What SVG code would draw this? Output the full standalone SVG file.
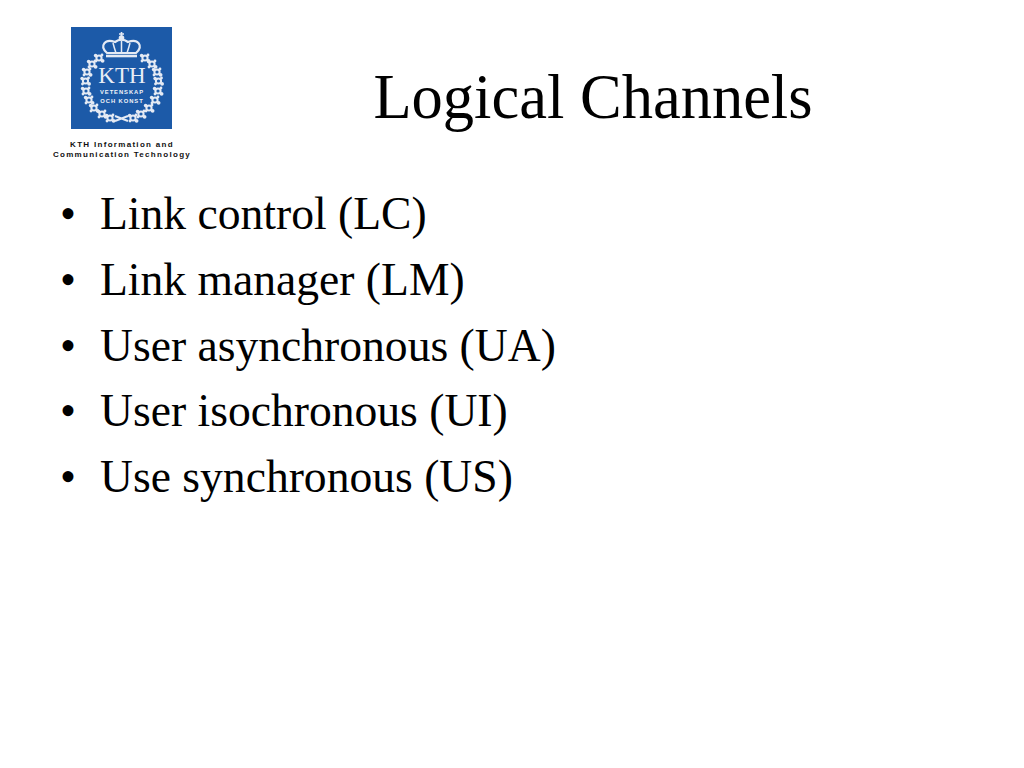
<svg xmlns="http://www.w3.org/2000/svg" width="1024" height="768" viewBox="0 0 1024 768">
<defs>
<style>
.t{font-family:"Liberation Serif","Times New Roman",serif;fill:#000}
.b{font-size:45.600px}
.w{font-family:"Liberation Sans",Arial,sans-serif;fill:#eef2f8;font-weight:700;text-anchor:middle}
.c{font-family:"Liberation Sans",Arial,sans-serif;fill:#111;font-weight:700;font-size:8px;text-anchor:middle;letter-spacing:1.300px}
.l{fill:none;stroke:#e4eaf4;stroke-width:2}
</style>
<g id="leaf"><circle r="2.600" fill="none" stroke="#e4eaf4" stroke-width="2"/><circle cx="3.600" cy="2.800" r="1.900" fill="#e4eaf4"/><circle cx="-3.400" cy="-2.400" r="1.800" fill="#e4eaf4"/><circle cx="3" cy="-3" r="1.400" fill="#e4eaf4"/><circle cx="-3" cy="3" r="1.400" fill="#e4eaf4"/></g>
</defs>
<rect width="1024" height="768" fill="#fff"/>
<g id="logo">
<rect x="71" y="27" width="101" height="102" fill="#1c5aa8"/>
<g id="crown" fill="none" stroke="#e4eaf4">
<path d="M107 53c-8-7-2-15 8-11 4-3 9-3 13 0 10-4 16 4 8 11z" stroke-width="2.200"/>
<path d="M113 43c1 4 2 7 3 10M130 43c-1 4-2 7-3 10M121.500 41v12" stroke-width="1.500"/>
<path d="M106 56h31" stroke-width="2.600"/>
<circle cx="121.500" cy="38" r="2.800" fill="#e4eaf4" stroke="none"/>
<path d="M121.500 32v4M119 34h5" stroke-width="1.600"/>
</g>
<g id="wreath">
<use href="#leaf" x="99" y="58"/><use href="#leaf" x="92" y="64"/><use href="#leaf" x="87" y="72"/><use href="#leaf" x="85.500" y="81"/><use href="#leaf" x="86" y="91"/><use href="#leaf" x="89" y="100"/><use href="#leaf" x="94" y="108"/><use href="#leaf" x="102" y="114"/><use href="#leaf" x="110" y="118"/>
<use href="#leaf" x="145" y="58"/><use href="#leaf" x="152" y="64"/><use href="#leaf" x="157" y="72"/><use href="#leaf" x="158.500" y="81"/><use href="#leaf" x="158" y="91"/><use href="#leaf" x="155" y="100"/><use href="#leaf" x="149" y="108"/><use href="#leaf" x="141" y="114"/><use href="#leaf" x="133" y="118"/>
<path class="l" d="M115 121l13-5M115 116l13 5"/>
</g>
<text x="122" y="83" class="t" font-size="23" style="fill:#e8edf6;text-anchor:middle">KTH</text>
<text x="122" y="94" class="w" font-size="5.800" letter-spacing=".95">VETENSKAP</text>
<text x="122" y="103" class="w" font-size="5.800" letter-spacing=".95">OCH KONST</text>
<text x="122" y="146.500" class="c">KTH Information and</text>
<text x="122" y="156.500" class="c">Communication Technology</text>
</g>
<text id="title" x="593" y="118" class="t" font-size="62.500" text-anchor="middle">Logical Channels</text>
<g id="bullets" class="t b">
<text x="60" y="229">•</text><text x="100" y="229">Link control (LC)</text>
<text x="60" y="294.500">•</text><text x="100" y="294.500">Link manager (LM)</text>
<text x="60" y="360.500">•</text><text x="100" y="360.500">User asynchronous (UA)</text>
<text x="60" y="426">•</text><text x="100" y="426">User isochronous (UI)</text>
<text x="60" y="492">•</text><text x="100" y="492">Use synchronous (US)</text>
</g>
</svg>
